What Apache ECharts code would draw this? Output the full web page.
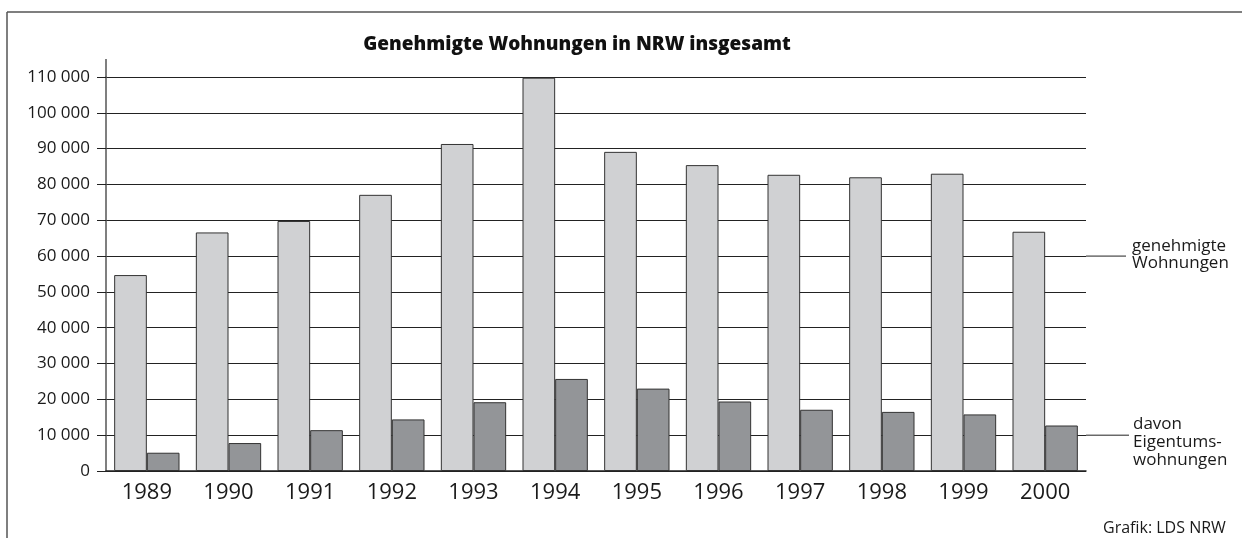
<!DOCTYPE html>
<html>
<head>
<meta charset="utf-8">
<script src="https://cdn.jsdelivr.net/npm/echarts@6/dist/echarts.min.js"></script>
<style>html,body{margin:0;padding:0;background:#fff}#c{width:1242px;height:538px}</style>
</head>
<body>
<div id="c"></div>
<script>
const years = ['1989','1990','1991','1992','1993','1994','1995','1996','1997','1998','1999','2000'];
const genehmigte = [54700, 66600, 69800, 77100, 91300, 109800, 89100, 85400, 82700, 82000, 83000, 66800];
const eigentum = [5100, 7800, 11400, 14400, 19200, 25700, 23000, 19400, 17100, 16500, 15800, 12700];
const yTicks = [0, 10000, 20000, 30000, 40000, 50000, 60000, 70000, 80000, 90000, 100000, 110000];
const titleText = 'Genehmigte Wohnungen in NRW insgesamt';
const legend1 = 'genehmigte\nWohnungen';
const legend2 = 'davon\nEigentums-\nwohnungen';
const credit = 'Grafik: LDS NRW';

const FONT = '"Open Sans", sans-serif';
const chart = echarts.init(document.getElementById('c'), null, {renderer: 'canvas'});
const fmt = v => String(v).replace(/\B(?=(\d{3})+(?!\d))/g, ' ');

const option = {
  backgroundColor: '#fff',
  animation: false,
  title: {
    text: titleText,
    left: 572, top: 30, textAlign: 'center',
    textStyle: {fontFamily: FONT, fontWeight: 800, fontSize: 19, color: '#111'}
  },
  grid: {left: 106, right: 156, top: 77, bottom: 67, containLabel: false},
  xAxis: {
    type: 'category', data: years,
    axisLine: {show: true, lineStyle: {color: '#222', width: 1.5}},
    axisTick: {show: false},
    axisLabel: {fontFamily: FONT, fontSize: 22, color: '#1a1a1a', margin: 11}
  },
  yAxis: {
    type: 'value', min: 0, max: 110000, interval: 10000,
    axisLine: {show: true, lineStyle: {color: '#555', width: 1.5}},
    axisTick: {show: true, length: 9, lineStyle: {color: '#222', width: 1}},
    axisLabel: {fontFamily: FONT, fontSize: 17, color: '#1a1a1a', margin: 16, formatter: v => fmt(v)},
    splitLine: {show: true, lineStyle: {color: '#222', width: 1}}
  },
  series: [
    {type: 'bar', data: genehmigte, barGap: '0%', barCategoryGap: '20%',
     itemStyle: {color: '#d0d1d3', borderColor: '#333', borderWidth: 1}},
    {type: 'bar', data: eigentum,
     itemStyle: {color: '#939598', borderColor: '#333', borderWidth: 1}}
  ],
  graphic: []
};
chart.setOption(option);

const p60 = chart.convertToPixel({gridIndex: 0}, [11, 60000]);
const p10 = chart.convertToPixel({gridIndex: 0}, [11, 10000]);
const pTop = chart.convertToPixel({gridIndex: 0}, [0, 110000]);
const gridRight = 1242 - 156, gridLeft = 106;
chart.setOption({
  graphic: [
    {type: 'line', shape: {x1: 7, y1: 12, x2: 1242, y2: 12}, style: {stroke: '#555', lineWidth: 1.5}},
    {type: 'line', shape: {x1: 7, y1: 12, x2: 7, y2: 538}, style: {stroke: '#555', lineWidth: 1.5}},
    {type: 'line', shape: {x1: gridLeft, y1: 59, x2: gridLeft, y2: pTop[1]}, style: {stroke: '#555', lineWidth: 1.5}},
    {type: 'line', shape: {x1: gridRight, y1: p60[1], x2: 1126, y2: p60[1]}, style: {stroke: '#222', lineWidth: 1}},
    {type: 'line', shape: {x1: gridRight, y1: p10[1], x2: 1129, y2: p10[1]}, style: {stroke: '#222', lineWidth: 1}},
    {type: 'text', x: 1132, y: p60[1] - 18, style: {text: legend1, font: '17px ' + FONT, fill: '#1a1a1a', lineHeight: 17}},
    {type: 'text', x: 1133, y: p10[1] - 20, style: {text: legend2, font: '17px ' + FONT, fill: '#1a1a1a', lineHeight: 18}},
    {type: 'text', x: 1103, y: 520, style: {text: credit, font: '16px ' + FONT, fill: '#1a1a1a'}}
  ]
});
</script>
</body>
</html>
